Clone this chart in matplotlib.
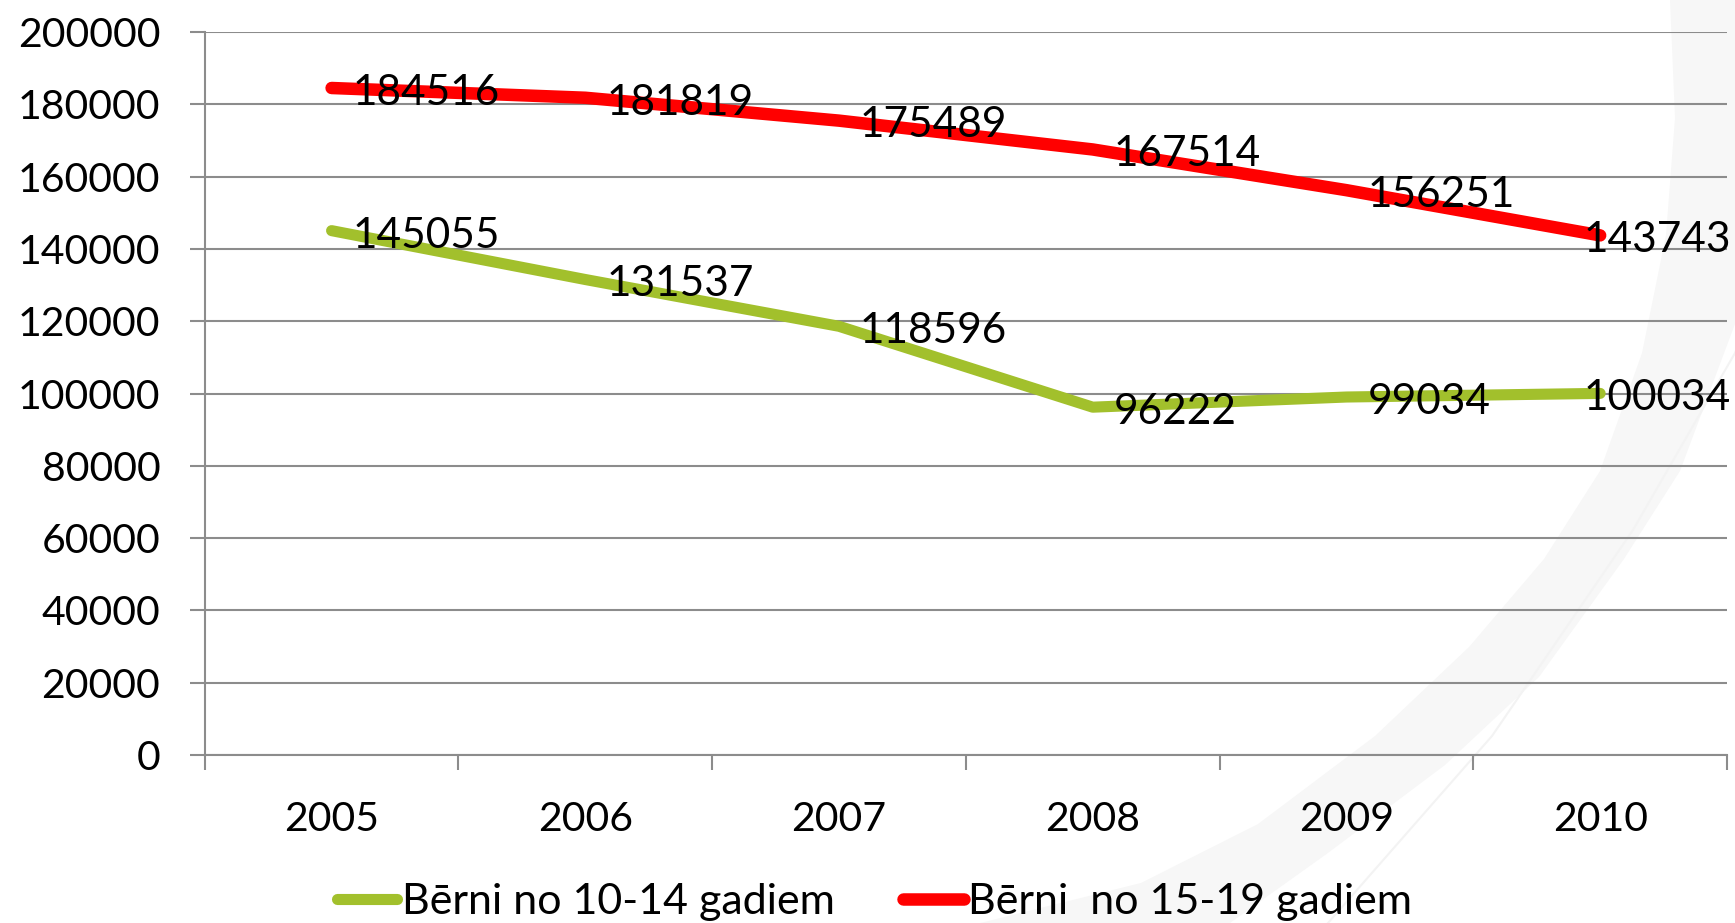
import matplotlib.pyplot as plt
from matplotlib.patches import Polygon
from matplotlib.transforms import blended_transform_factory, offset_copy

years = ['2005', '2006', '2007', '2008', '2009', '2010']
kids_10_14 = [145055, 131537, 118596, 96222, 99034, 100034]
kids_15_19 = [184516, 181819, 175489, 167514, 156251, 143743]
label_10_14 = 'Bērni no 10-14 gadiem'
label_15_19 = 'Bērni  no 15-19 gadiem'

plt.rcParams['font.family'] = ['Lato', 'DejaVu Sans']

W, H = 1735, 923
fig = plt.figure(figsize=(W / 100, H / 100), dpi=100)

# faint decorative swoosh behind the chart, in pixel coords from the top-left
bg = fig.add_axes([0, 0, 1, 1], zorder=-1)
bg.set_xlim(0, W)
bg.set_ylim(H, 0)
bg.axis('off')
inner = [(1670, 0), (1675, 118), (1666, 235), (1642, 353), (1600, 471), (1544, 559),
         (1469, 647), (1375, 736), (1258, 824), (1141, 883), (980, 923)]
outer = [(1230, 923), (1328, 853), (1445, 765), (1539, 677), (1624, 559), (1680, 471),
         (1735, 324), (1760, 250), (1760, 0)]
bg.add_patch(Polygon(inner + outer, closed=True, facecolor='#f7f7f7', edgecolor='none'))
bg.plot([1740, 1735, 1633, 1492, 1328], [340, 353, 530, 736, 923], color='#f3f3f3', lw=1.5)

ax = fig.add_axes([0.118, 0.182, 0.8774, 0.7833])
ax.patch.set_alpha(0)

x = range(len(years))
green = '#a2c02c'
red = '#ff0000'
ax.plot(x, kids_10_14, color=green, lw=8, solid_capstyle='round', label=label_10_14, zorder=3)
ax.plot(x, kids_15_19, color=red, lw=9, solid_capstyle='round', label=label_15_19, zorder=3)

# last labels are pushed back inside the right edge, as in the original
edge = offset_copy(blended_transform_factory(fig.transFigure, ax.transData),
                   fig=fig, y=-3.5, units='points')
for series in (kids_10_14, kids_15_19):
    for xi, v in zip(x, series):
        if xi == len(years) - 1:
            ax.text(0.9975, v, str(v), transform=edge, ha='right', va='center',
                    fontsize=30.5, zorder=4)
        else:
            ax.annotate(str(v), (xi, v), xytext=(15, -3.5), textcoords='offset points',
                        ha='left', va='center', fontsize=30.5, zorder=4)

ax.set_xlim(-0.5, len(years) - 0.5)
ax.set_ylim(0, 200000)
ax.set_yticks(range(0, 200001, 20000))
ax.set_yticklabels([str(v) for v in range(0, 200001, 20000)])
ax.set_xticks([i - 0.5 for i in range(len(years) + 1)])
ax.set_xticklabels([])
ax.set_xticks(list(x), minor=True)
ax.set_xticklabels(years, minor=True)

ax.grid(axis='y', color='#8c8c8c', lw=1.5)
ax.set_axisbelow(True)
for s in ['top', 'right']:
    ax.spines[s].set_visible(False)
for s in ['left', 'bottom']:
    ax.spines[s].set_color('#8c8c8c')
    ax.spines[s].set_linewidth(1.5)

ax.tick_params(axis='y', which='major', length=11, width=1.5, color='#8c8c8c',
               labelsize=29.5, pad=21)
ax.tick_params(axis='x', which='major', length=11, width=1.5, color='#8c8c8c')
ax.tick_params(axis='x', which='minor', length=0, labelsize=29.5, pad=33)

ax.legend(loc='center', bbox_to_anchor=(0.44, -0.203), ncol=2, frameon=False,
          fontsize=31, handlelength=1.4, handletextpad=0.1, columnspacing=1.6)

fig.savefig('out.png', dpi=100)
